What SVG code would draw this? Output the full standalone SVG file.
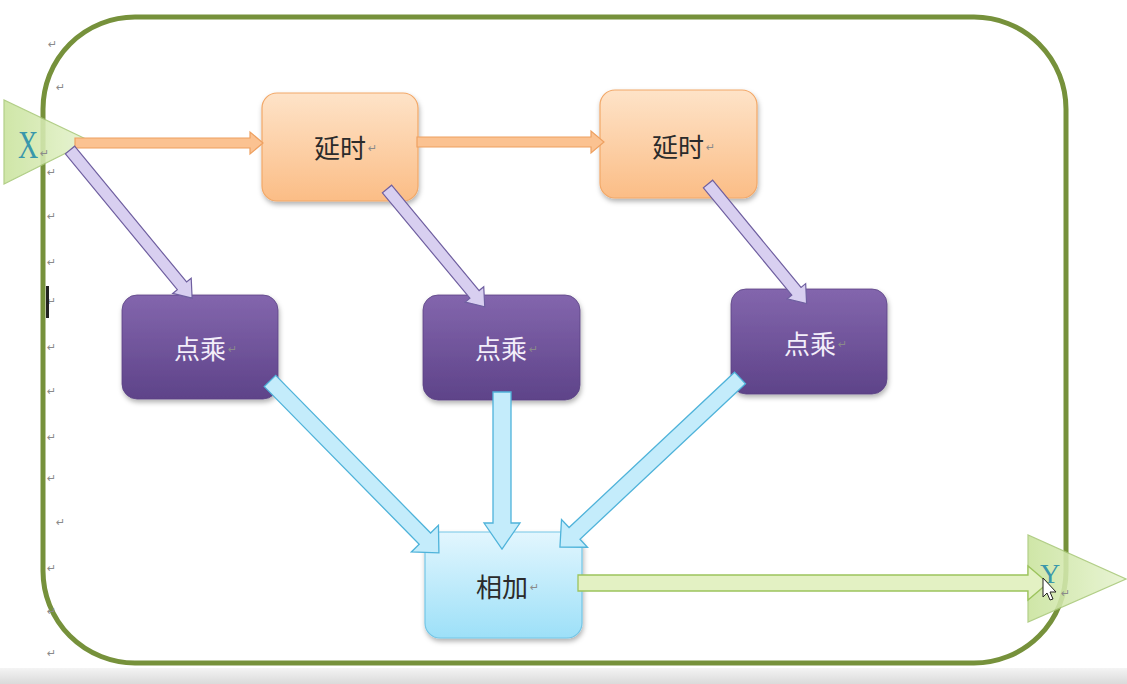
<svg xmlns="http://www.w3.org/2000/svg" width="1127" height="684" viewBox="0 0 1127 684">
<defs>
<linearGradient id="gOrange" x1="0" y1="0" x2="0" y2="1"><stop offset="0" stop-color="#fee3c8"/><stop offset="1" stop-color="#fbbd86"/></linearGradient>
<linearGradient id="gPurple" x1="0" y1="0" x2="0" y2="1"><stop offset="0" stop-color="#8366ad"/><stop offset="1" stop-color="#5e4389"/></linearGradient>
<linearGradient id="gBlue" x1="0" y1="0" x2="0" y2="1"><stop offset="0" stop-color="#e2f6fe"/><stop offset="1" stop-color="#9de0f8"/></linearGradient>
<linearGradient id="gTri" x1="0" y1="0" x2="1" y2="0"><stop offset="0" stop-color="#c9e39c"/><stop offset="1" stop-color="#e6f3cf"/></linearGradient>
<linearGradient id="gBar" x1="0" y1="0" x2="0" y2="1"><stop offset="0" stop-color="#f4f4f4"/><stop offset="1" stop-color="#dadada"/></linearGradient>
<filter id="sh" x="-10%" y="-10%" width="130%" height="130%"><feDropShadow dx="1" dy="3" stdDeviation="2.5" flood-color="#000" flood-opacity="0.3"/></filter>
<style>
.lbl{font-family:"Noto Sans CJK SC","Noto Sans",sans-serif;font-size:26px;dominant-baseline:central;text-anchor:middle}
.dark{fill:#2b2b2b}
.light{fill:#f3eefa}
.pm{font-family:"DejaVu Sans",sans-serif;font-size:11px;fill:#8a8a8a}
.orange{fill:url(#gOrange);stroke:#f2a868;stroke-width:1.2}
.purple{fill:url(#gPurple);stroke:#5a4284;stroke-width:0.8}
.blue{fill:url(#gBlue);stroke:#74c6e6;stroke-width:1.2}
.aOr{fill:#fbc291;stroke:#eea060;stroke-width:1.2}
.aPu{fill:#d8cff0;stroke:#6f5fa0;stroke-width:1.2}
.aCy{fill:#c4ecfb;stroke:#4fb3da;stroke-width:1.3}
.aGr{fill:#e3f1c3;stroke:#9cc35c;stroke-width:1.3}
.tri{fill:url(#gTri);stroke:#a8c878;stroke-width:1.2;opacity:0.88}
</style>
</defs>
<rect x="0" y="0" width="1127" height="684" fill="#ffffff"/>
<rect x="0" y="668" width="1127" height="16" fill="url(#gBar)"/>

<!-- frame -->
<rect x="43" y="17" width="1023" height="646" rx="92" ry="92" fill="none" stroke="#76913b" stroke-width="5"/>

<!-- paragraph marks -->
<g id="marks">
<text class="pm" x="48" y="48">↵</text>
<text class="pm" x="56" y="91">↵</text>
<text class="pm" x="47" y="176">↵</text>
<text class="pm" x="47" y="220">↵</text>
<text class="pm" x="47" y="266">↵</text>
<text class="pm" x="47" y="305">↵</text>
<text class="pm" x="47" y="351">↵</text>
<text class="pm" x="47" y="395">↵</text>
<text class="pm" x="47" y="441">↵</text>
<text class="pm" x="47" y="482">↵</text>
<text class="pm" x="56" y="526">↵</text>
<text class="pm" x="47" y="572">↵</text>
<text class="pm" x="47" y="615">↵</text>
<text class="pm" x="47" y="657">↵</text>
<rect x="46" y="286" width="3" height="32" fill="#222"/>
</g>

<!-- input X -->
<g id="inX">
<polygon class="tri" points="4,100 4,184 90,141"/>
<text x="28" y="158" font-family="Liberation Serif,serif" font-size="40" fill="#3a97ab" text-anchor="middle" transform="translate(28,0) scale(0.7,1) translate(-28,0)">X</text>
<text class="pm" x="40" y="157">↵</text>
</g>

<!-- output Y -->
<g id="outY">
<polygon class="tri" points="1028,535 1028,622 1126,579"/>
<text x="1050" y="583" font-family="Liberation Serif,serif" font-size="28" fill="#3a97ab" text-anchor="middle">Y</text>
<text class="pm" x="1061" y="597">↵</text>
</g>

<!-- nodes -->
<g id="delay1">
<rect class="orange" x="262" y="93" width="156" height="108" rx="15" filter="url(#sh)"/>
<text class="lbl dark" x="340" y="146">延时</text><text class="pm" x="368" y="152">↵</text>
</g>
<g id="delay2">
<rect class="orange" x="600" y="90" width="157" height="108" rx="15" filter="url(#sh)"/>
<text class="lbl dark" x="678" y="145">延时</text><text class="pm" x="706" y="151">↵</text>
</g>
<g id="mul1">
<rect class="purple" x="122" y="295" width="156" height="104" rx="15" filter="url(#sh)"/>
<text class="lbl light" x="200" y="347">点乘</text><text class="pm" x="228" y="353">↵</text>
</g>
<g id="mul2">
<rect class="purple" x="423" y="295" width="157" height="105" rx="15" filter="url(#sh)"/>
<text class="lbl light" x="501" y="347">点乘</text><text class="pm" x="529" y="353">↵</text>
</g>
<g id="mul3">
<rect class="purple" x="731" y="289" width="156" height="105" rx="15" filter="url(#sh)"/>
<text class="lbl light" x="810" y="342">点乘</text><text class="pm" x="838" y="348">↵</text>
</g>
<g id="add">
<rect class="blue" x="425" y="532" width="157" height="106" rx="15" filter="url(#sh)"/>
<text class="lbl dark" x="502" y="585">相加</text><text class="pm" x="530" y="591">↵</text>
</g>

<!-- connectors -->
<g id="connectors">
<!-- orange: X -> delay1 -->
<polygon class="aOr" transform="translate(75,143)" points="0,-5 175,-5 175,-11 188,0 175,11 175,5 0,5"/>
<!-- orange: delay1 -> delay2 -->
<polygon class="aOr" transform="translate(417,142)" points="0,-5 174,-5 174,-11 187,0 174,11 174,5 0,5"/>
<!-- purple -->
<polygon class="aPu" transform="translate(70,150) rotate(50.5)" points="0,-6 176,-6 176,-12 192,0 176,12 176,6 0,6"/>
<polygon class="aPu" transform="translate(387,189) rotate(50.3)" points="0,-6 137,-6 137,-12 153,0 137,12 137,6 0,6"/>
<polygon class="aPu" transform="translate(708,184) rotate(50.5)" points="0,-6 139,-6 139,-12 155,0 139,12 139,6 0,6"/>
<!-- cyan -->
<polygon class="aCy" transform="translate(270,381) rotate(45.5)" points="0,-8 221,-8 221,-19 241,0 221,19 221,8 0,8"/>
<polygon class="aCy" transform="translate(502,392) rotate(90)" points="0,-9 131,-9 131,-18 157,0 131,18 131,9 0,9"/>
<polygon class="aCy" transform="translate(740,378) rotate(136.8)" points="0,-8 227,-8 227,-19 247,0 227,19 227,8 0,8"/>
<!-- green: add -> Y -->
<polygon class="aGr" transform="translate(578,583)" points="0,-8 450,-8 450,-17 470,0 450,17 450,8 0,8"/>
</g>

<!-- mouse pointer -->
<polygon points="1043,578 1043,597 1047,593 1050,600 1053,599 1050,592 1056,592" fill="#ffffff" stroke="#222" stroke-width="1"/>
</svg>
